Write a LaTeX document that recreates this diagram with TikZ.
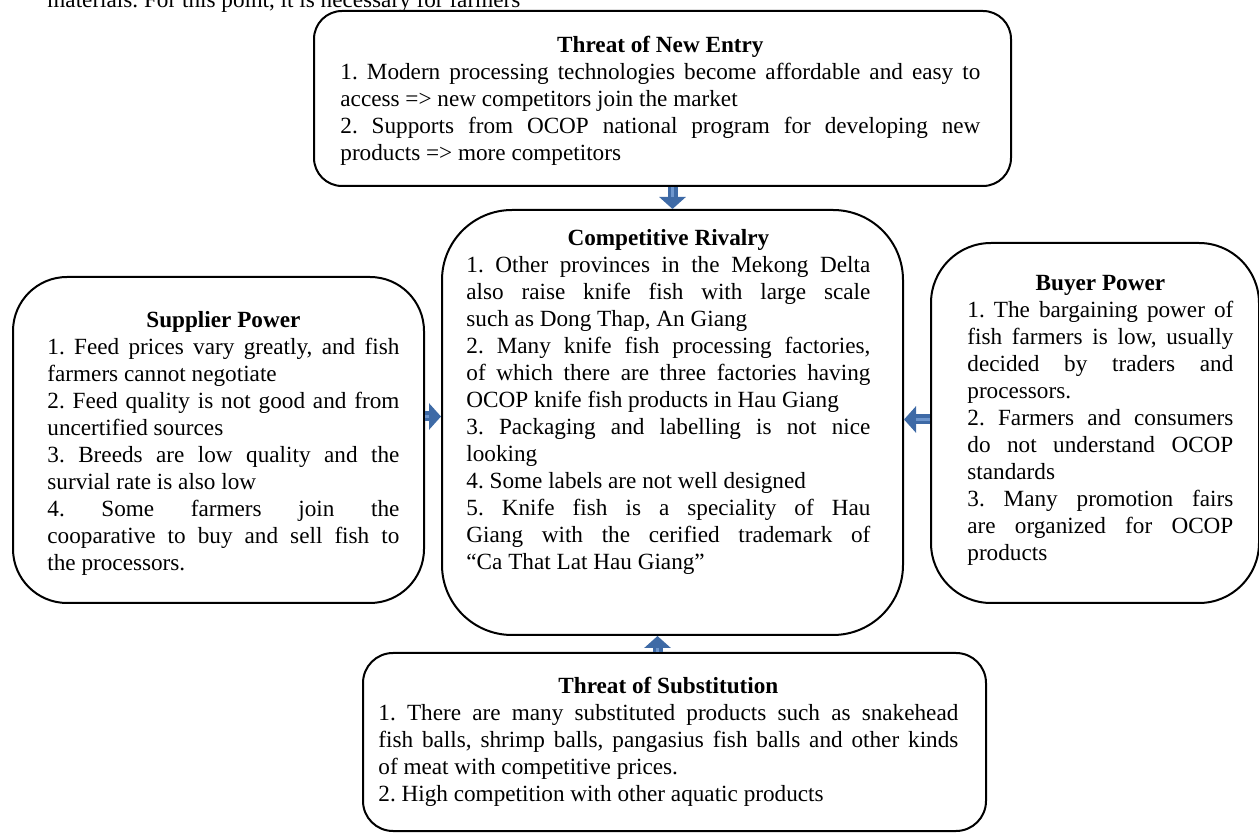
\documentclass[tikz,border=0pt]{standalone}
\usepackage{fontspec}
\setmainfont{Liberation Serif}
\usetikzlibrary{arrows.meta,positioning}
\definecolor{arrowblue}{RGB}{62,106,166}
\definecolor{arrowlight}{RGB}{110,150,205}
\frenchspacing
\hyphenpenalty=10000
\tikzset{
  forcebox/.style={draw, line width=1pt, rounded corners=#1, anchor=north west, inner sep=0pt},
  forcetext/.style={anchor=north west, inner sep=0pt, text width=#1, align=justify, font=\fontsize{11.6}{13.5}\selectfont},
  forcearrow/.style={line width=5pt, draw=arrowblue, -{Triangle[width=13pt,length=6pt]},
    postaction={draw=arrowlight, line width=1.2pt, -, shorten >=6pt}},
}
\begin{document}
\begin{tikzpicture}[x=0.5pt,y=-0.5pt]
  \useasboundingbox (0,0) rectangle (1259,833);
  % line of the page above, cut off
  \begin{scope}
    \clip (0,0) rectangle (1259,833);
    \node[anchor=base west, inner sep=0pt, font=\fontsize{11.6}{13.5}\selectfont] (page) at (47,8) {materials. For this point, it is necessary for farmers};
  \end{scope}
  % boxes
  \node[forcebox=14pt, minimum width=348.5pt, minimum height=87.5pt] (entry) at (313,10) {};
  \node[forcebox=35pt, minimum width=230.5pt, minimum height=212.5pt] (rivalry) at (441,209) {};
  \node[forcebox=27pt, minimum width=205.5pt, minimum height=163pt] (supplier) at (12,276) {};
  \node[forcebox=30pt, minimum width=164pt, minimum height=180pt] (buyer) at (930,242) {};
  \node[forcebox=15pt, minimum width=311.5pt, minimum height=89pt] (subst) at (362,652) {};
  % texts
  \node[forcetext=320pt] (entrytext) at (340,36) {{\centering\bfseries Threat of New Entry\par}
    1. Modern processing technologies become affordable and easy to\linebreak
    access => new competitors join the market\\
    2. Supports from OCOP national program for developing new\linebreak
    products => more competitors};
  \node[forcetext=202pt] (rivalrytext) at (466,229) {{\centering\bfseries Competitive Rivalry\par}
    1. Other provinces in the Mekong Delta\linebreak
    also raise knife fish with large scale\linebreak
    such as Dong Thap, An Giang\\
    2. Many knife fish processing factories,\linebreak
    of which there are three factories having\linebreak
    OCOP knife fish products in Hau Giang\\
    3. Packaging and labelling is not nice\linebreak
    looking\\
    4. Some labels are not well designed\\
    5. Knife fish is a speciality of Hau\linebreak
    Giang with the cerified trademark of\linebreak
    “Ca That Lat Hau Giang”};
  \node[forcetext=176pt] (suppliertext) at (47,311) {{\centering\bfseries Supplier Power\par}
    1. Feed prices vary greatly, and fish\linebreak
    farmers cannot negotiate\\
    2. Feed quality is not good and from\linebreak
    uncertified sources\\
    3. Breeds are low quality and the\linebreak
    survial rate is also low\\
    4. Some farmers join the\linebreak
    cooparative to buy and sell fish to\linebreak
    the processors.};
  \node[forcetext=133pt] (buyertext) at (967,275) {{\centering\bfseries Buyer Power\par}
    1. The bargaining power of\linebreak
    fish farmers is low, usually\linebreak
    decided by traders and\linebreak
    processors.\\
    2. Farmers and consumers\linebreak
    do not understand OCOP\linebreak
    standards\\
    3. Many promotion fairs\linebreak
    are organized for OCOP\linebreak
    products};
  \node[forcetext=290pt] (substtext) at (378,677) {{\centering\bfseries Threat of Substitution\par}
    1. There are many substituted products such as snakehead\linebreak
    fish balls, shrimp balls, pangasius fish balls and other kinds\linebreak
    of meat with competitive prices.\\
    2. High competition with other aquatic products};
  % arrows into the rivalry box
  \coordinate (rivw) at ([yshift=3pt]rivalry.west);
  \coordinate (rive) at ([yshift=1.5pt]rivalry.east);
  \coordinate (rivs) at ([xshift=-7.5pt]rivalry.south);
  \draw[forcearrow] (entry.south -| rivalry.north) -- (rivalry.north);
  \draw[forcearrow] (supplier.east |- rivw) -- (rivw);
  \draw[forcearrow] (buyer.west |- rive) -- (rive);
  \draw[forcearrow] (subst.north -| rivs) -- (rivs);
\end{tikzpicture}
\end{document}
